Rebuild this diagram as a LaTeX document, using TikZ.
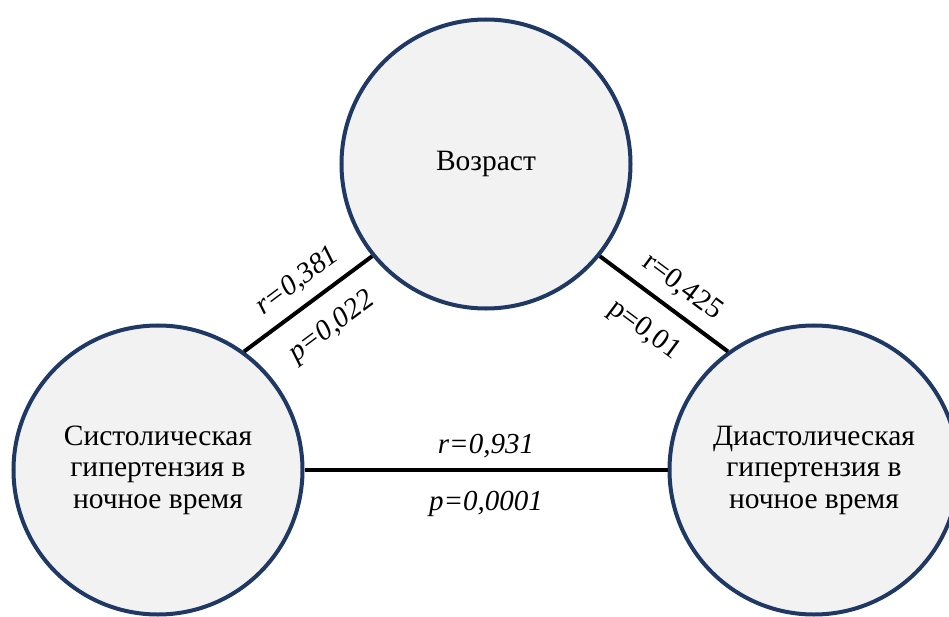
\documentclass[tikz,border=0pt]{standalone}
\usepackage{fontspec}
\setmainfont{Liberation Serif}
\usepackage{tikz}
\usetikzlibrary{%
  positioning,
  matrix,
}
\definecolor{nodeblue}{HTML}{1F3864}
\definecolor{nodegray}{HTML}{F2F2F2}

\begin{document}
\begin{tikzpicture}[x = 1pt, y = 1pt]
        \useasboundingbox (0,0) rectangle (949,616);

        \matrix (M) at (486,299) [
          row sep = 13pt,
          column sep = 35pt,
          nodes = {
            circle,
            line width = 4pt,
            draw = nodeblue,
            fill = nodegray,
            minimum size = 289pt,
            inner sep = 0pt,
            align = center,
            font = \fontsize{29.5}{31.5}\selectfont,
          },
        ]{
          & \node (V) {Возраст}; & \\
          \node (S) {Систолическая\\гипертензия в\\ночное время}; &
          & \node (D) {Диастолическая\\гипертензия в\\ночное время}; \\
        };

        \begin{scope}[line width = 4pt, black,
          every node/.style = {
            font = \fontsize{29}{31}\selectfont\itshape,
            sloped, anchor = base, inner sep = 0pt,
          },
        ]
          \draw (S.54) -- (V.-141)
            node[midway, xshift = 5pt, yshift = 17pt] {r=0,381}
            node[midway, xshift = 5pt, yshift = -40pt] {p=0,022};
          \draw (V.-39) -- (D.126)
            node[midway, xshift = 5pt, yshift = 17pt, font = \fontsize{29}{31}\selectfont] {r=0,425}
            node[midway, yshift = -40pt, font = \fontsize{29}{31}\selectfont] {p=0,01};
          \draw (S) -- (D)
            node[midway, yshift = 17pt] {r=0,931}
            node[midway, yshift = -40pt] {p=0,0001};
        \end{scope}
\end{tikzpicture}
\end{document}
